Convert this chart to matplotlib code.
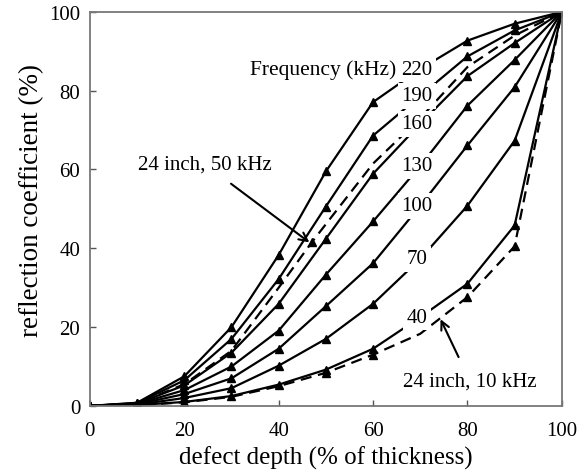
import matplotlib
matplotlib.use("Agg")
import matplotlib.pyplot as plt

plt.rcParams["font.family"] = ["Liberation Serif", "DejaVu Serif"]

# ---- data -----------------------------------------------------------------
depth = [0, 10, 20, 30, 40, 50, 60, 70, 80, 90, 100]

freq_labels = ["220", "190", "160", "130", "100", "70", "40"]
refl_220 = [0, 0.8, 7.5, 20.0, 38.3, 59.5, 77.1, 85.5, 92.7, 97.0, 100]
refl_190 = [0, 0.7, 6.5, 17.0, 32.2, 50.6, 68.6, 78.7, 88.7, 95.3, 100]
refl_160 = [0, 0.6, 5.2, 13.5, 25.9, 42.4, 58.9, 71.6, 83.7, 92.1, 100]
refl_130 = [0, 0.5, 4.0, 10.0, 19.1, 33.3, 46.8, 60.9, 76.2, 87.8, 100]
refl_100 = [0, 0.4, 3.0, 7.0, 14.5, 25.3, 36.2, 50.8, 66.1, 80.9, 100]
refl_70 = [0, 0.3, 2.0, 4.5, 10.2, 17.0, 25.9, 37.3, 50.8, 67.3, 100]
refl_40 = [0, 0.2, 1.0, 2.5, 5.4, 9.2, 14.5, 22.5, 31.0, 45.8, 100]
solid_series = [refl_220, refl_190, refl_160, refl_130, refl_100, refl_70, refl_40]

# 24 inch pipe, dashed curves
depth_50k = [0, 10, 20, 30, 40, 47, 60, 70, 80, 90, 100]
refl_50k = [0, 0.6, 5.5, 14.0, 30.0, 41.5, 61.5, 73.0, 86.0, 94.0, 100]
depth_10k = [0, 10, 20, 30, 40, 50, 60, 70, 80, 90, 100]
refl_10k = [0, 0.2, 0.9, 2.3, 5.0, 8.4, 13.0, 18.3, 27.6, 40.5, 100]

# ---- plot -------------------------------------------------------------------
fig = plt.figure(figsize=(5.84, 4.77), dpi=100)
ax = fig.add_axes([0.154, 0.147, 0.808, 0.826])

for vals in solid_series:
    ax.plot(depth, vals, color="black", lw=1.6, marker="^", ms=6,
            markevery=[0, 1, 2, 3, 4, 5, 6, 8, 9, 10], zorder=2)

ax.plot(depth_50k, refl_50k, color="black", lw=1.6, ls=(0, (5, 3)),
        marker="^", ms=6, markevery=[5], zorder=2)
ax.plot(depth_10k, refl_10k, color="black", lw=1.6, ls=(0, (5, 3)),
        marker="^", ms=6, markevery=[5, 6, 8, 9], zorder=2)

# frequency labels sit on the 70 % points, breaking the lines
for lab, vals in zip(freq_labels, solid_series):
    ax.text(69.3, vals[7], lab, fontsize=15, ha="center", va="center",
            bbox=dict(facecolor="white", edgecolor="none", pad=2.5), zorder=4)

ax.text(65.0, 85.5, "Frequency (kHz)", fontsize=15.5, ha="right", va="center",
        zorder=4)

ax.annotate("24 inch, 50 kHz", xy=(46.5, 41.5), xytext=(24.3, 61.4),
            fontsize=15, ha="center", va="center",
            arrowprops=dict(arrowstyle="->", color="black", lw=1.5,
                            shrinkA=9, shrinkB=0), zorder=4)
ax.annotate("24 inch, 10 kHz", xy=(74.3, 22), xytext=(80.5, 6.4),
            fontsize=15, ha="center", va="center",
            arrowprops=dict(arrowstyle="->", color="black", lw=1.5,
                            shrinkA=9, shrinkB=0), zorder=4)

ax.set_xlim(0, 100)
ax.set_ylim(0, 100)
ax.set_xticks([0, 20, 40, 60, 80, 100])
ax.set_yticks([0, 20, 40, 60, 80, 100])
ax.tick_params(direction="in", length=4, width=1, labelsize=15, pad=7,
               colors="#555555", labelcolor="black")
ax.tick_params(axis="x", pad=11)
ax.set_xlabel("defect depth (% of thickness)", fontsize=18, labelpad=4)
ax.set_ylabel("reflection coefficient (%)", fontsize=19.5)
ax.yaxis.set_label_coords(-0.098, 0.525)
for sp in ax.spines.values():
    sp.set_color("#777777")
    sp.set_linewidth(1.3)

fig.savefig("out.png", dpi=100)
